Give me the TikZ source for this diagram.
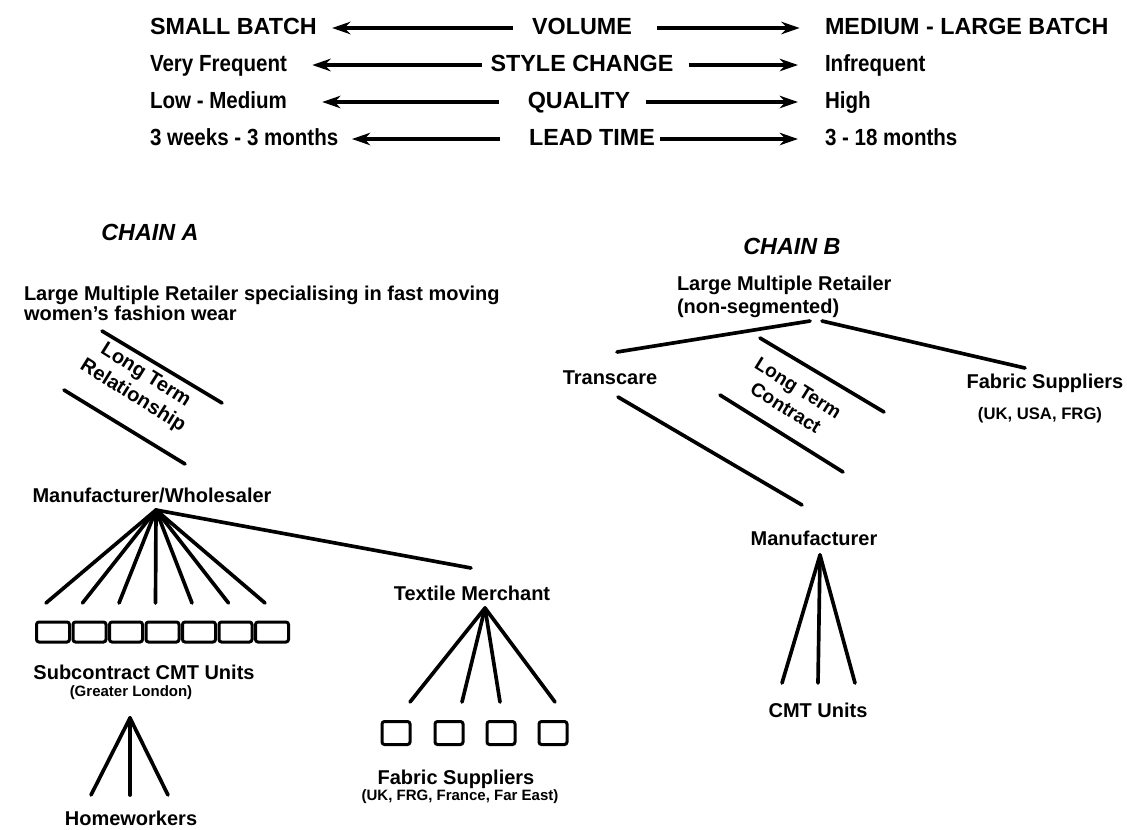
\documentclass[tikz,border=0pt]{standalone}
\usepackage{fontspec}
\setmainfont{Liberation Sans}
\newfontfamily\condensed[FakeStretch=0.88]{Liberation Sans}
\usetikzlibrary{arrows.meta, positioning, calc}

\begin{document}
\begin{tikzpicture}[
    x=0.6pt, y=-0.6pt,
    every node/.style={inner sep=1pt, font=\bfseries\fontsize{12}{12}\selectfont},
    big/.style={font=\bfseries\fontsize{14}{16}\selectfont, text height=10.5pt, text depth=3pt},
    bigmixed/.style={big, font=\condensed\bfseries\fontsize{14}{16}\selectfont},
    chain/.style={font=\bfseries\itshape\fontsize{14}{16}\selectfont},
    paren/.style={font=\bfseries\fontsize{9}{10}\selectfont},
    arrow/.style={-{Stealth[length=11pt, width=7.5pt]}, line width=2pt},
    branch/.style={line width=2.2pt, line cap=round},
    unit/.style={draw, line width=1.8pt, rounded corners=1.5pt, minimum width=19.8pt, minimum height=12pt, inner sep=0pt},
    smallunit/.style={unit, minimum width=16.8pt, minimum height=13.8pt},
  ]
  \useasboundingbox (0,0) rectangle (1127,829);

  % Scale rows
  \node[big, anchor=west] (sb) at (148,28) {SMALL BATCH};
  \node[big] (vol) at (582,28) {VOLUME};
  \node[big, anchor=west] (mlb) at (823,28) {MEDIUM - LARGE BATCH};

  \node[bigmixed, anchor=west] (vf) at (148,65) {Very Frequent};
  \node[big] (sc) at (582,65) {STYLE CHANGE};
  \node[bigmixed, anchor=west] (inf) at (823,65) {Infrequent};

  \node[bigmixed, anchor=west] (lm) at (148,102) {Low - Medium};
  \node[big] (qu) at (579,102) {QUALITY};
  \node[bigmixed, anchor=west] (hi) at (823,102) {High};

  \node[bigmixed, anchor=west] (wk) at (148,139) {3 weeks - 3 months};
  \node[big] (lt) at (592,139) {LEAD TIME};
  \node[bigmixed, anchor=west] (mo) at (823,139) {3 - 18 months};

  \draw[arrow, shorten <=10pt, shorten >=8pt] (vol) -- (sb);
  \draw[arrow, shorten <=14pt, shorten >=14pt] (vol) -- (mlb);
  \draw[arrow, shorten <=4pt, shorten >=14pt] (sc) -- (vf);
  \draw[arrow, shorten <=8pt, shorten >=15pt] (sc) -- (inf);
  \draw[arrow, shorten <=16pt, shorten >=20pt] (qu) -- (lm);
  \draw[arrow, shorten <=8pt, shorten >=15pt] (qu) -- (hi);
  \draw[arrow, shorten <=16pt, shorten >=7pt] (lt) -- (wk);
  \draw[arrow, shorten <=2pt, shorten >=15pt] (lt) -- (mo);

  % Chain A
  \node[chain] (chainA) at (150,232) {CHAIN A};
  \node[anchor=north west, align=left] (retA) at (22,284)
    {Large Multiple Retailer specialising in fast moving\\women's fashion wear};

  \coordinate (ltrA1) at (102,331);
  \coordinate (ltrA2) at (222,403);
  \coordinate (ltrA3) at (64,390);
  \coordinate (ltrA4) at (185,464);
  \draw[branch] (ltrA1) -- (ltrA2);
  \draw[branch] (ltrA3) -- (ltrA4);
  \node[rotate=-32, align=center, font=\bfseries\fontsize{12}{14.5}\selectfont] (ltrA) at (139,386)
    {Long Term\\Relationship};

  \node (mw) at (152,495) {Manufacturer/Wholesaler};
  \coordinate (mwApex) at (156,510);

  \foreach \i in {0,...,6} {
    \node[unit] (cmt\i) at ({53+36.5*\i},632) {};
    \coordinate (f\i) at ({46+36.5*\i},603);
    \draw[branch] (mwApex) -- (f\i);
  }
  \node (sub) at (144,672) {Subcontract CMT Units};
  \node[paren] (gl) at (131,693) {(Greater London)};

  \coordinate (hwApex) at (130,718);
  \foreach \x [count=\k] in {91,130,168} {
    \coordinate (h\k) at (\x,795);
    \draw[branch] (hwApex) -- (h\k);
  }
  \node (hw) at (131,818) {Homeworkers};

  \coordinate (tmEnd) at (471,568);
  \draw[branch] (mwApex) -- (tmEnd);
  \node (tm) at (472,593) {Textile Merchant};
  \coordinate (tmApex) at (485,608);
  \foreach \x [count=\k] in {410,462,500,555} {
    \coordinate (t\k) at (\x,702);
    \draw[branch] (tmApex) -- (t\k);
  }
  \foreach \x [count=\k] in {396,449,501,553} {
    \node[smallunit] (fs\k) at (\x,733) {};
  }
  \node (fsA) at (456,779) {Fabric Suppliers};
  \node[paren] (fsAc) at (460,797) {(UK, FRG, France, Far East)};

  % Chain B
  \node[chain] (chainB) at (792,246) {CHAIN B};
  \node[anchor=north west, align=left, font=\bfseries\fontsize{12}{14}\selectfont] (retB) at (675,274)
    {Large Multiple Retailer\\(non-segmented)};
  \coordinate (retBl) at (810,321);
  \coordinate (retBr) at (822,321);

  \node (tr) at (610,378) {Transcare};
  \coordinate (trTop) at (617,352);
  \coordinate (trBot) at (618,397);
  \draw[branch] (trTop) -- (retBl);

  \node (fsB) at (1045,383) {Fabric Suppliers};
  \node[paren, font=\bfseries\fontsize{10}{11}\selectfont] (fsBc) at (1040,415) {(UK, USA, FRG)};
  \coordinate (fsBTop) at (1025,368);
  \draw[branch] (retBr) -- (fsBTop);

  \coordinate (ltc1) at (760,338);
  \coordinate (ltc2) at (884,412);
  \coordinate (ltc3) at (720,395);
  \coordinate (ltc4) at (843,472);
  \draw[branch] (ltc1) -- (ltc2);
  \draw[branch] (ltc3) -- (ltc4);
  \node[rotate=-32, align=center, font=\bfseries\fontsize{11.5}{14}\selectfont] (ltc) at (792,398)
    {Long Term\\Contract};

  \node (mf) at (814,538) {Manufacturer};
  \coordinate (mfTop) at (802,505);
  \draw[branch] (trBot) -- (mfTop);
  \coordinate (mfApex) at (820,555);
  \foreach \x [count=\k] in {782,818,855} {
    \coordinate (c\k) at (\x,683);
    \draw[branch] (mfApex) -- (c\k);
  }
  \node (cmtB) at (818,710) {CMT Units};
\end{tikzpicture}
\end{document}
